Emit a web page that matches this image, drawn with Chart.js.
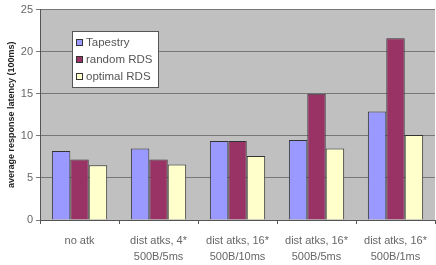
<!DOCTYPE html>
<html>
<head>
<meta charset="utf-8">
<script src="https://cdn.jsdelivr.net/npm/chart.js@4/dist/chart.umd.min.js"></script>
<style>
  html, body { margin: 0; padding: 0; background: #fff; }
  #wrap { width: 436px; height: 265px; }
</style>
</head>
<body>
<div id="wrap"><canvas id="myChart" width="436" height="265"></canvas></div>
<script>
// Chart data
var categories = [["no atk"], ["dist atks, 4*", "500B/5ms"], ["dist atks, 16*", "500B/10ms"], ["dist atks, 16*", "500B/5ms"], ["dist atks, 16*", "500B/1ms"]];
var tapestry = [8.2, 8.5, 9.4, 9.5, 12.9];
var randomRDS = [7.2, 7.2, 9.4, 15.0, 21.6];
var optimalRDS = [6.5, 6.6, 7.6, 8.5, 10.1];
var yTicks = [0, 5, 10, 15, 20, 25];

var FONT = '"Liberation Sans", Arial, sans-serif';

// Grey plot background
var plotBackground = {
    id: 'plotBackground',
    beforeDraw: function(chart) {
        var ctx = chart.ctx, a = chart.chartArea;
        ctx.save();
        ctx.fillStyle = '#c0c0c0';
        ctx.fillRect(a.left, a.top, a.right - a.left, a.bottom - a.top);
        ctx.restore();
    }
};

// Legend box drawn inside the plot, like the original
var boxLegend = {
    id: 'boxLegend',
    afterDraw: function(chart) {
        var ctx = chart.ctx;
        var x = 72, y = 31, w = 86, h = 56;
        ctx.save();
        ctx.fillStyle = '#ffffff';
        ctx.fillRect(x, y, w, h);
        ctx.strokeStyle = '#555';
        ctx.lineWidth = 1;
        ctx.strokeRect(x + 0.5, y + 0.5, w, h);
        ctx.font = '11.5px ' + FONT;
        ctx.textBaseline = 'middle';
        chart.data.datasets.forEach(function(ds, i) {
            var ly = y + 11 + i * 17;
            ctx.fillStyle = ds.backgroundColor;
            ctx.fillRect(x + 4, ly - 3, 7, 7);
            ctx.strokeStyle = '#333';
            ctx.strokeRect(x + 4.5, ly - 2.5, 6, 6);
            ctx.fillStyle = '#555';
            ctx.fillText(ds.label, x + 14, ly + 1);
        });
        ctx.restore();
    }
};

var ctx = document.getElementById('myChart').getContext('2d');
var myChart = new Chart(ctx, {
    type: 'bar',
    data: {
        labels: categories,
        datasets: [
            { label: 'Tapestry', data: tapestry, backgroundColor: '#9999ff', borderColor: '#333', borderWidth: 1 },
            { label: 'random RDS', data: randomRDS, backgroundColor: '#993366', borderColor: '#333', borderWidth: 1 },
            { label: 'optimal RDS', data: optimalRDS, backgroundColor: '#ffffcc', borderColor: '#333', borderWidth: 1 }
        ]
    },
    options: {
        responsive: false,
        animation: false,
        layout: { padding: { top: 8, right: 0, bottom: 0, left: 5 } },
        datasets: { bar: { categoryPercentage: 0.7, barPercentage: 1.0 } },
        plugins: {
            legend: { display: false },
            tooltip: { enabled: false }
        },
        scales: {
            x: {
                afterFit: function(axis) { axis.height = 45; },
                grid: { display: true, offset: true, drawOnChartArea: false, color: '#555', tickLength: 4 },
                border: { color: '#555' },
                ticks: { color: '#666', font: { size: 11, family: FONT, lineHeight: 1.45 }, maxRotation: 0, padding: 9 }
            },
            y: {
                min: 0,
                max: 25,
                afterBuildTicks: function(axis) {
                    axis.ticks = yTicks.map(function(v) { return { value: v }; });
                },
                grid: { color: '#777', tickLength: 4, lineWidth: 1 },
                border: { color: '#555' },
                ticks: { color: '#666', font: { size: 11, family: FONT }, padding: 3 },
                title: {
                    display: true,
                    text: 'average response latency (100ms)',
                    color: '#222',
                    font: { size: 9, weight: 'bold', family: FONT },
                    padding: 1
                }
            }
        }
    },
    plugins: [plotBackground, boxLegend]
});
</script>
</body>
</html>
